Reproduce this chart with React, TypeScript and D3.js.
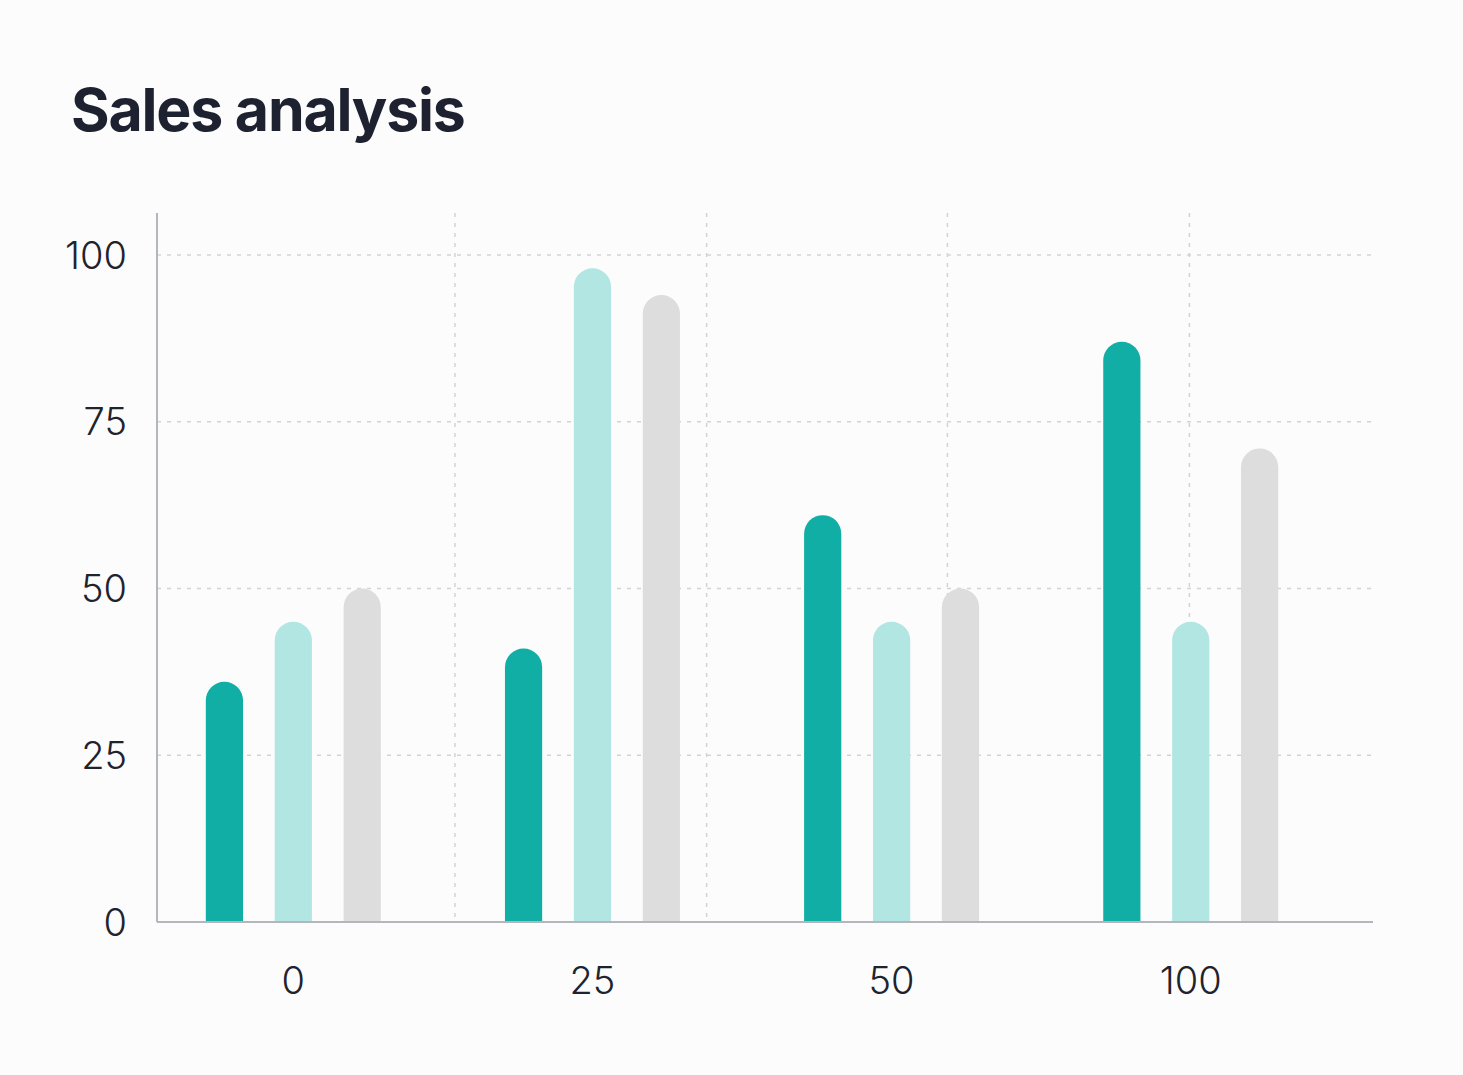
import { useRef, useEffect } from "react";
import * as d3 from "d3";

// chart data
const categories = ["0", "25", "50", "100"];
const seriesNames = ["Series A", "Series B", "Series C"];
const seriesA = [36, 41, 61, 87];
const seriesB = [45, 98, 45, 45];
const seriesC = [50, 94, 50, 71];
const yTicks = [0, 25, 50, 75, 100];
// vertical grid positions, as percent of plot width
const xGridTicks = [24.5, 45.2, 65, 84.9];

const colors = ["#10aea4", "#b1e6e2", "#dddddd"];

const WIDTH = 1463;
const HEIGHT = 1075;

export default function App() {
  const svgRef = useRef<SVGSVGElement>(null);

  useEffect(() => {
    if (!svgRef.current) return;
    const svg = d3.select(svgRef.current);
    svg.selectAll("*").remove();

    const plot = { left: 157, right: 1373, top: 213, bottom: 922 };
    const values = [seriesA, seriesB, seriesC];

    svg.append("rect")
      .attr("width", WIDTH)
      .attr("height", HEIGHT)
      .attr("fill", "#fcfcfc");

    // Title
    svg.append("text")
      .attr("x", 71)
      .attr("y", 131)
      .attr("fill", "#1d2130")
      .attr("font-family", "Inter, 'Noto Sans', sans-serif")
      .attr("font-weight", 700)
      .attr("font-size", "59px")
      .attr("letter-spacing", "-1.2px")
      .text("Sales analysis");

    // Scales
    const y = d3.scaleLinear()
      .domain([0, 106.3])
      .range([plot.bottom, plot.top]);

    const x0 = d3.scaleBand<string>()
      .domain(categories)
      .range([plot.left, plot.right])
      .paddingInner(0.415)
      .paddingOuter(0.24)
      .align(0.34);

    const x1 = d3.scaleBand<string>()
      .domain(seriesNames)
      .range([0, x0.bandwidth()])
      .paddingInner(0.46)
      .paddingOuter(0);

    const gridX = d3.scaleLinear()
      .domain([0, 100])
      .range([plot.left, plot.right]);

    // Grid lines
    svg.append("g")
      .selectAll("line")
      .data(yTicks.filter(d => d > 0))
      .join("line")
      .attr("x1", plot.left)
      .attr("x2", plot.right)
      .attr("y1", d => y(d))
      .attr("y2", d => y(d))
      .attr("stroke", "#d2d3d6")
      .attr("stroke-width", 1.5)
      .attr("stroke-dasharray", "4,6");

    svg.append("g")
      .selectAll("line")
      .data(xGridTicks)
      .join("line")
      .attr("x1", d => gridX(d))
      .attr("x2", d => gridX(d))
      .attr("y1", plot.top)
      .attr("y2", plot.bottom)
      .attr("stroke", "#d2d3d6")
      .attr("stroke-width", 1.5)
      .attr("stroke-dasharray", "4,6");

    // Bars with rounded tops
    const barPath = (bx: number, by: number, w: number, h: number) => {
      const r = Math.min(w / 2, h);
      const p = d3.path();
      p.moveTo(bx, by + h);
      p.lineTo(bx, by + r);
      p.arc(bx + r, by + r, r, Math.PI, 0);
      p.lineTo(bx + w, by + h);
      p.closePath();
      return p.toString();
    };

    const rows = categories.flatMap((c, i) =>
      seriesNames.map((s, j) => ({ cat: c, series: s, value: values[j][i], idx: j }))
    );

    svg.append("g")
      .selectAll("path")
      .data(rows)
      .join("path")
      .attr("fill", d => colors[d.idx])
      .attr("d", d => {
        const bx = (x0(d.cat) ?? 0) + (x1(d.series) ?? 0);
        const top = y(d.value);
        return barPath(bx, top, x1.bandwidth(), plot.bottom - top);
      });

    // Axes
    svg.append("line")
      .attr("x1", plot.left)
      .attr("x2", plot.left)
      .attr("y1", plot.top)
      .attr("y2", plot.bottom)
      .attr("stroke", "#b3b6bd")
      .attr("stroke-width", 2);

    svg.append("line")
      .attr("x1", plot.left)
      .attr("x2", plot.right)
      .attr("y1", plot.bottom)
      .attr("y2", plot.bottom)
      .attr("stroke", "#b3b6bd")
      .attr("stroke-width", 2);

    const labelFont = "Inter, 'Noto Sans', sans-serif";

    svg.append("g")
      .selectAll("text")
      .data(yTicks)
      .join("text")
      .attr("x", 127)
      .attr("y", d => y(d))
      .attr("dy", "0.36em")
      .attr("text-anchor", "end")
      .attr("fill", "#1f232c")
      .attr("font-family", labelFont)
      .attr("font-weight", 300)
      .attr("font-size", "38px")
      .text(d => `${d}`);

    svg.append("g")
      .selectAll("text")
      .data(categories)
      .join("text")
      .attr("x", d => (x0(d) ?? 0) + x0.bandwidth() / 2)
      .attr("y", 994)
      .attr("text-anchor", "middle")
      .attr("fill", "#1f232c")
      .attr("font-family", labelFont)
      .attr("font-weight", 300)
      .attr("font-size", "38px")
      .text(d => d);
  }, []);

  return (
    <svg
      ref={svgRef}
      width={WIDTH}
      height={HEIGHT}
      style={{ position: "absolute", top: 0, left: 0, display: "block" }}
    />
  );
}
